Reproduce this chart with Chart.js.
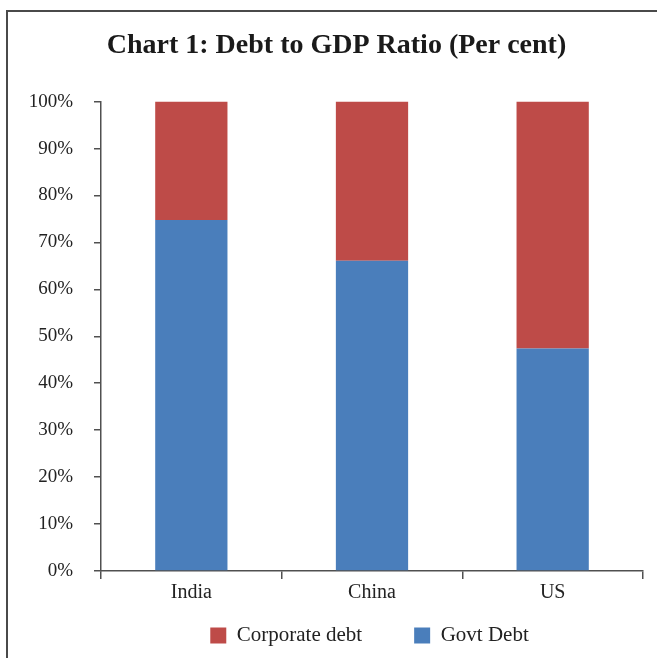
<!DOCTYPE html>
<html>
<head>
<meta charset="utf-8">
<script src="https://cdn.jsdelivr.net/npm/chart.js@4"></script>
<style>
  html, body { margin: 0; padding: 0; background: #fff; }
  #wrap { position: relative; width: 657px; height: 658px; }
</style>
</head>
<body>
<div id="wrap"><canvas id="debtChart" width="657" height="658"></canvas></div>
<script>
// values, in per cent of total debt
const countries = ['India', 'China', 'US'];
const govtDebt = [74.8, 66.1, 47.4];
const corporateDebt = [25.2, 33.9, 52.6];
const yTicks = [0, 10, 20, 30, 40, 50, 60, 70, 80, 90, 100];

const axisColor = '#505050';
const serif = '"Liberation Serif", "DejaVu Serif", serif';

// frame lines (top and left only, like the source image)
const framePlugin = {
    id: 'frame',
    afterLayout(chart) {
        // title sits a bit right of centre, legend is centred under the plot
        chart.titleBlock.left += 15;
        chart.titleBlock.right += 15;
        chart.legend.left += 48;
        chart.legend.right += 48;
    },
    afterDraw(chart) {
        const c = chart.ctx;
        c.save();
        c.strokeStyle = '#4a4a4a';
        c.lineWidth = 2;
        c.beginPath();
        c.moveTo(7, 658);
        c.lineTo(7, 11);
        c.lineTo(657, 11);
        c.stroke();
        c.restore();
    }
};

const ctx = document.getElementById('debtChart').getContext('2d');
new Chart(ctx, {
    type: 'bar',
    data: {
        labels: countries,
        datasets: [{
            label: 'Govt Debt',
            data: govtDebt,
            backgroundColor: '#4a7ebb',
            categoryPercentage: 0.8,
            barPercentage: 0.5
        }, {
            label: 'Corporate debt',
            data: corporateDebt,
            backgroundColor: '#be4b48',
            categoryPercentage: 0.8,
            barPercentage: 0.5
        }]
    },
    options: {
        responsive: false,
        animation: false,
        layout: { padding: { left: 0, right: 14, top: 0, bottom: 2 } },
        plugins: {
            title: {
                display: true,
                text: 'Chart 1: Debt to GDP Ratio (Per cent)',
                color: '#1a1a1a',
                font: { family: serif, size: 28, weight: 'bold' },
                padding: { top: 29, bottom: 39 }
            },
            legend: {
                position: 'bottom',
                reverse: true,
                labels: {
                    color: '#222',
                    font: { family: serif, size: 21 },
                    boxWidth: 16,
                    boxHeight: 16,
                    padding: 10,
                    generateLabels(chart) {
                        const items = Chart.defaults.plugins.legend.labels.generateLabels(chart);
                        // wider gap after the first legend entry
                        items.forEach(it => { if (it.datasetIndex === 1) it.text += '\u2003\u2003'; });
                        return items;
                    }
                }
            },
            tooltip: { enabled: false }
        },
        scales: {
            x: {
                stacked: true,
                grid: {
                    drawOnChartArea: false,
                    tickLength: 8,
                    color: axisColor,
                    lineWidth: 1.5
                },
                border: { color: axisColor, width: 1.5 },
                ticks: {
                    color: '#222',
                    font: { family: serif, size: 20 },
                    padding: 2
                },
                afterFit(scale) { scale.height = 44; }
            },
            y: {
                stacked: true,
                min: 0,
                max: 100,
                afterBuildTicks(scale) {
                    scale.ticks = yTicks.map(v => ({ value: v }));
                },
                grid: {
                    drawOnChartArea: false,
                    tickLength: 7,
                    color: axisColor,
                    lineWidth: 1.5
                },
                border: { color: axisColor, width: 1.5 },
                ticks: {
                    color: '#222',
                    font: { family: serif, size: 19 },
                    padding: 21,
                    callback: v => v + '%'
                },
                afterFit(scale) { scale.width = 101; }
            }
        }
    },
    plugins: [framePlugin]
});
</script>
</body>
</html>
